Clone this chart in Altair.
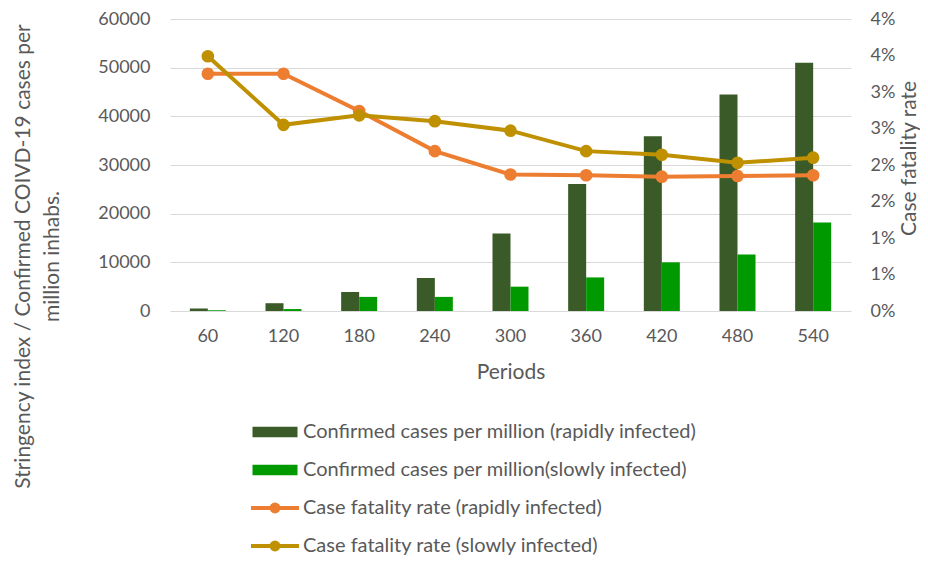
import altair as alt
import pandas as pd

periods = [60, 120, 180, 240, 300, 360, 420, 480, 540]
cases_rapid = [500, 1600, 3900, 6800, 15900, 26100, 35900, 44500, 51000]
cases_slow = [150, 400, 2900, 2900, 5000, 6900, 10000, 11600, 18200]
cfr_rapid = [0.0325, 0.0325, 0.0274, 0.0219, 0.0187, 0.0186, 0.0184, 0.0185, 0.0186]
cfr_slow = [0.0349, 0.0255, 0.0268, 0.0260, 0.0247, 0.0219, 0.0214, 0.0203, 0.0210]

labels = [
    "Confirmed cases per million (rapidly infected)",
    "Confirmed cases per million(slowly infected)",
    "Case fatality rate (rapidly infected)",
    "Case fatality rate (slowly infected)",
]
colors = ["#3A5A27", "#009A00", "#ED7D31", "#BF9000"]
left_ticks = [0, 10000, 20000, 30000, 40000, 50000, 60000]
right_ticks = [0, 0.005, 0.01, 0.015, 0.02, 0.025, 0.03, 0.035, 0.04]

bars_df = pd.DataFrame({
    "period": periods * 2,
    "cases": cases_rapid + cases_slow,
    "series": [labels[0]] * 9 + [labels[1]] * 9,
})
cfr_df = pd.DataFrame({
    "period": periods * 2,
    "cfr": cfr_rapid + cfr_slow,
    "series": [labels[2]] * 9 + [labels[3]] * 9,
})
legend_df = pd.DataFrame({
    "label": labels,
    "row": [0, 1, 2, 3],
    "kind": ["bar", "bar", "line", "line"],
})

FONT = "Lato"
GREY = "#595959"

color_scale = alt.Scale(domain=labels, range=colors)

X = alt.X(
    "period:O", sort=periods,
    scale=alt.Scale(type="band", paddingInner=0.524, paddingOuter=0.262),
    axis=alt.Axis(title="Periods", labelAngle=0, ticks=False, domain=False,
                  labelPadding=16, titleY=61, titleBaseline="middle"),
)

bars = alt.Chart(bars_df).mark_bar().encode(
    x=X,
    xOffset=alt.XOffset("series:N", sort=labels[:2], scale=alt.Scale(paddingInner=0, paddingOuter=0)),
    y=alt.Y("cases:Q", scale=alt.Scale(domain=[0, 60000], nice=False),
            axis=alt.Axis(values=left_ticks, format="d",
                          title=["Stringency index / Confirmed  COIVD-19 cases per", "million inhabs."],
                          titleX=-147, titleY=237, titleAngle=270, titleAlign="center",
                          titleBaseline="middle", titleLineHeight=29,
                          labelPadding=20, ticks=False, domain=False,
                          grid=True, gridColor="#D9D9D9", gridWidth=1)),
    color=alt.Color("series:N", scale=color_scale, legend=None),
)

lines_base = alt.Chart(cfr_df).encode(
    x=X,
    y=alt.Y("cfr:Q", scale=alt.Scale(domain=[0, 0.04], nice=False),
            axis=alt.Axis(orient="right", values=right_ticks, format=".0%",
                          title="Case fatality rate", titleAngle=270, titleX=58, titleY=139,
                          titleAlign="center", titleBaseline="middle",
                          labelPadding=19, ticks=False, domain=False, grid=False)),
    color=alt.Color("series:N", scale=color_scale, legend=None),
)
lines = alt.layer(
    lines_base.mark_line(strokeWidth=4),
    lines_base.mark_circle(size=160, opacity=1),
)

leg_y = alt.Y("row:Q", scale=alt.Scale(domain=[0, 3], range=[413, 527]), axis=None)
leg_base = alt.Chart(legend_df).encode(
    y=leg_y,
    color=alt.Color("label:N", scale=color_scale, legend=None),
)
leg_rect = leg_base.transform_filter(alt.datum.kind == "bar").mark_point(
    shape="M-1,-0.23L1,-0.23L1,0.23L-1,0.23Z", filled=True, size=2025, opacity=1
).encode(x=alt.value(105))
leg_line = leg_base.transform_filter(alt.datum.kind == "line").mark_point(
    shape="M-1,0L1,0", filled=False, size=2304, strokeWidth=4, opacity=1
).encode(x=alt.value(105))
leg_dot = leg_base.transform_filter(alt.datum.kind == "line").mark_circle(
    size=120, opacity=1
).encode(x=alt.value(105))
leg_text = alt.Chart(legend_df).mark_text(
    align="left", baseline="middle", font=FONT, fontSize=20, color=GREY
).encode(y=leg_y, x=alt.value(133), text="label:N")
legend = alt.layer(leg_rect, leg_line, leg_dot, leg_text)

chart = alt.layer(bars, lines, legend).resolve_scale(
    y="independent"
).properties(
    width=681, height=292,
    autosize=alt.AutoSizeParams(type="none"),
    padding={"left": 162, "top": 11, "right": 69, "bottom": 246},
).configure_view(stroke=None).configure_axis(
    labelFont=FONT, labelFontSize=18, labelColor=GREY,
    titleFont=FONT, titleFontSize=21, titleColor=GREY, titleFontWeight="normal",
)

chart.save("out.html", embed_options={"renderer": "svg", "actions": False})
